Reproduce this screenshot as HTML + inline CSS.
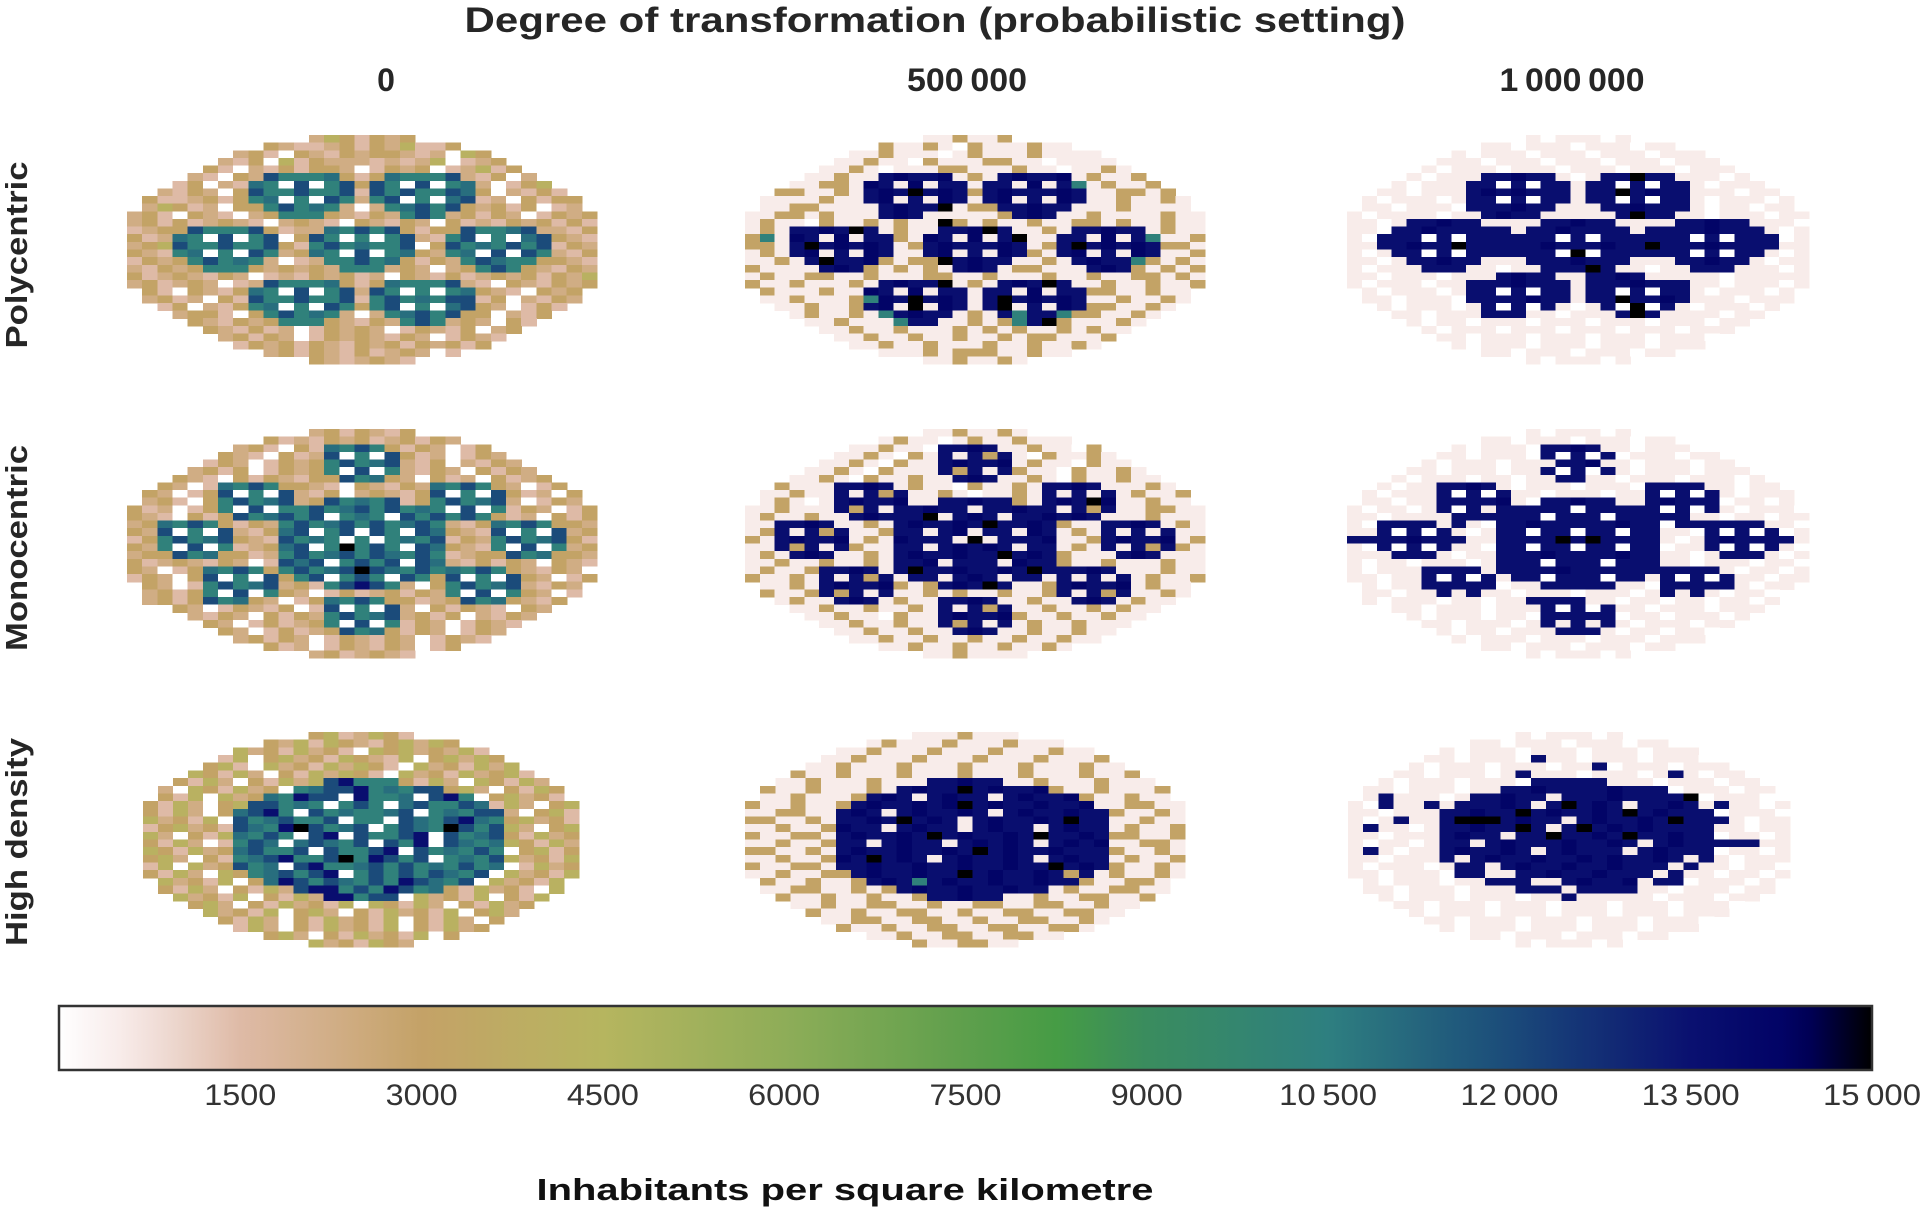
<!DOCTYPE html>
<html>
<head>
<meta charset="utf-8">
<style>
html,body{margin:0;padding:0;background:#fff;}
svg{display:block;}
text{font-family:"Liberation Sans",Arial,sans-serif;}
</style>
</head>
<body>
<svg id="chart" width="1921" height="1215" viewBox="0 0 1921 1215" xmlns="http://www.w3.org/2000/svg">
  <defs>
    <linearGradient id="cmapGrad" x1="0" x2="1" y1="0" y2="0"></linearGradient>
  </defs>
  <text x="935" y="32" font-size="35" font-weight="bold" fill="#262626" text-anchor="middle" textLength="941" lengthAdjust="spacingAndGlyphs">Degree of transformation (probabilistic setting)</text>
  <g id="colLabels"></g>
  <g id="rowLabels"></g>
  <g id="panels" shape-rendering="crispEdges"></g>
  <g id="colorbar"></g>
  <text x="845" y="1200" font-size="31" font-weight="bold" fill="#111" text-anchor="middle" textLength="617" lengthAdjust="spacingAndGlyphs">Inhabitants per square kilometre</text>
</svg>
<script>
// ---------- data ----------
const columnLabels = ["0", "500\u2009000", "1\u2009000\u2009000"];
const rowLabels = ["Polycentric", "Monocentric", "High density"];
const colorbarTicks = [1500, 3000, 4500, 6000, 7500, 9000, 10500, 12000, 13500, 15000];
const colorbarTickLabels = ["1500", "3000", "4500", "6000", "7500", "9000", "10\u2009500", "12\u2009000", "13\u2009500", "15\u2009000"];
const valueMin = 0;
const valueMax = 15000;
// density level codes used in the grids below
const levelCodes = ["0", "1", "2", "3", "4", "5", "G", "T", "U", "B", "N", "M", "K"];
const levelValues = [0, 500, 1500, 2300, 3100, 4200, 9000, 10300, 11000, 12000, 13600, 14200, 15000];

const gridPoly0 = [
"3542434","4322342435224","34204324344323054","3240524333232350234","420324244302434023524",
"32043BTTTU424UTTTB32403","24032UT0B0TB4BT0B0TU30245","324304BTTBTTB2BTBTTBU403242","4223424TU0T0BT3TB0T0UB2304244","35423044TBTUT303TUBTB43424023",
"3420432034TTT43243TBT3424302434","3424234320343204324304232434242","2344BTTTB4233UTBTB4244BTTUB3324","423UT0B0TB04BT0T0TB32TB0T0UB432","345BTTBTTB42TBTUTTB04BTUTBTB243",
"432TU0T0BT34UT0B0TU43TU0B0BT324","2434TBTUT3023TTBTU4243TBUTT4432","32434TTT434343TTT343034TBT43243","4234324302324342304324234342435","342343023BTTTU424UTTTB320432434",
"4204324UT0B0TB3BT0T0TU4320434","3423042BTTBTTB2TBTUTBB2403243","240324TU0T0BT4TB0T0UB430242","344204TBTUT303TUBTB440324","432434TTT43243TBT343042",
"432423024343024324034","3424302434324302432","24342432434243424","3424324234302","4323432"];
const gridPoly1 = [
"1141140","4114104111411","11411101411141111","1141104111441101111","114101114411141101141",
"11411NMNNM141NMNNM14114","11441MN1M1NN1NN1M1NT14114","441141NMNKNMN4NMNNNMN114414","1111411NM1N1MN1NM1N1MN1141141","11441111NMNNK144NNMNN11141111",
"1114414111NMN111114NMN1141111411","1411041141411K41411411441411411","141NNMNKN1411NNMKN1141NNMNN1411","4T1MN1M1NN41MN1M1NK11NN1M1NT114","441NKNMNMN14NMNNNMN14NKNMNMN441",
"141NM1N1MN11NM1N1MN41NM1N1MN114","1141NKNNM4144KNMNN1141NMNNT4141","41111NMN414141NMN144111NMN41414","1411441141114411411141141144141","411411141NMNNK141NMNKN114114114",
"4111411MN1M1NN1NN1M1NN4411411","1141114TMNKNMN1NKNMNMN1141141","114114NM1K1MN1NK1N1MN441141","141141TNMNN141NTNNT441141","114111TNN11414TNK411141",
"114114111414141141411","1141141141141441114","11411411141141141","1114144411411","1141141"];
const gridPoly2 = [
"1011101","1101110111011","10111011101110111","1110111011101110111","101110111011101110111",
"10111NNMNN101NNKNN11101","10111NN0N0NN1NN0N0NN10111","110111NMNMNNN1NNKNMNN111011","1011101NN0N0NN1NN0N0NN1011101","1101110NNNMNN111NNMNNN1011011",
"101111011NMNN11111NKNN110111011","1101NNMNN1111NNMNN1111NNMNN1110","110NNMNNNNN1NNMNNNN1NNNNMNNN101","10NNN0N0NNNNNN0N0NNNNNN0N0NNN01","11NNMNNKNNNNNMNNNMNNKNNNMNNNN11",
"101NN0N0NNNNNN0K0NNNNNN0N0NN101","1101NNMNN111NNNMNNN111NNMNN1011","10111NNN11011NNNKN11011NNN11101","1101110111NMNN11NNMN11111011111","10111011NNNMNNN1NNNMNNN11011101",
"1011101NN0N0NN1NN0N0NN1011101","1101110NNNNMNN1NNKNNMN1110111","1011101N0N0N101N0K0N1011101","110111NNN110111NKN1111011","10110111011101110111011",
"101110111011101110111","1101110111011101110","10111011101110111","1101110111011","1011101"];
const gridMono0 = [
"............3424324............",".........4232434234243.........",".......342042UTBT4243024.......","......4320423B0T0B4230243......",".....24302434TBTUB32403243.....",
"....342402434T0B0T324304243....","...43204243244BTU43042304234...","..4302UTBT4432043243UTBT43024..",".43024B0T0B324034324B0T0B42304.",".34204TBTUB34BTUTB24TBTUB30243.",
"423024T0B0TTBTUBTBTUT0B0T243024","4320424BTUBTB0TUT0BTBTBT4230424","34UTBT4243TBTUBTBTUBT324UTBT443","43B0T0B324UB0TB0BT0BU432B0T0B34","24TBTUB432BTUT0T0TUTB243TBTUB42",
"43T0B0T234UB0TKTBT0BU432T0B0T34","344BTU4423TBTUBTBUTBT2344BTU443","4234324302BUB0TBTB0BU3242430432","43024UTBT4TBTUBKBUTBTUTBT432430","24304B0T0B4TB0TBT0BT4B0T0B43024",
".4302TBTUB342TBNBT304TBTUB3243.",".3424T0B0T43024234243T0B0T4302.","..3424BTU43024UTBT44234BTU4324..","...4302432402B0T0B3042432043...","....324304243TBTUB342403243....",
".....43024234T0B0T24302432.....","......43024234BTU42430243......",".......34243024324302432.......",".........4230243243024.........","............3423432............"];
const gridMono1 = [
"............1141141............",".........1411014114111.........",".......114110NNMN1141104.......","......1141041N1N4N1041141......",".....11410411NMNNM14110411.....",
"....114104111N4N1N411041141....","...11410411411NMN11410411411...","..4111NNMN1411041141NNMN11141..",".11411N1N4N114101141N1N1N14114.",".14101NMNNM11NNMNN41NMNKM11411.",
"114111N4N1NNMNN1NNMNN1N4N114411","1411411NMNNNK1NMN1NNMNMN1114111","11NNMN1141NMNNMNKNNMN411NNMN141","14N1N4N114NN1NM1NN1MN141N1N1N11","41NMNNM141MNNN1K1NNNM114NMNNM14",
"11N4N1N411NN1NMNMN1NN141N1N4N41","141NMN1141NMNNMNNKNMN4111NMN111","1141141141NNM1NNN1MNN4114111411","14114NNMN1NKNNMNNMNKNNNMN111411","41141N1N4N1NN1NMN1NN1N1N1N14114",
".1141NMNNM414NMNKN114NMNNM1411.",".4114N4N1N11414114114N1N4N1141.","..1411NMN1411NNMN11411NMN1411..","...1141141141N1N4N1141141411...","....114110411NMNNM411411411....",
".....11411411N4N1N14114111.....","......11411411NMN11411411......",".......11411411411411411.......",".........1141141141141.........","............1141111............"];
const gridMono2 = [
"............1011101............",".........1101110111011.........",".......101110NNMN1101110.......","......1101110N0N0N0111011......",".....101110111NNM110111011.....",
"....110111011N0N0N101110111....","...10111011011NN110111011101...","..1011NNMN1011101110NNNN11011..",".10111N0N0N110111011N0N0N10111.",".11011NNNNM10NNMNN11NMNNN01101.",
"101101N0N1NNNNN0NNNNN0N0N101110","1101111NNNNNN0NNN0NNNNN11011011","10NNNN1N10NNMNNNNNMNN0NNNNNN110","11N0N0N101NN0NN0NN0NN110N0N0N01","NNNNMNNN11NNNNKNKNNNN101NMNNNN1",
"10N0N0N110NN0NN0NN0NN011N0N0N10","111NNN1011NNNMNNNNMNN1101NNN101","1011011101NNN0NNN0NNN1101110110","10111NNNN1NNNNMNNNNNNNNNN101101","11011N0N0N1NN0NNN0NN1N0N0N11011",
".1011NNNNN011NNNNN110NNNNN1011.",".11011N1N110111011101N1N10110..","..10111011011NNNN1101101101101..","...1101110111N0N0N1101110111...","....101110110NNNNN011011101....",
".....11011101N1N1N10111011.....","......10110111NNN10110110......",".......10111011101110111.......",".........1101110111011.........","............1011101............"];
const gridHigh0 = [
"4523542","4352543245354","53425342054534352","2504534254325045354","452053425354205342535",
"54253042535420534253452","4253042535BNTTT4253054253","305425340TUBBNTUTBB45304254","4250534UTNBB0NTTU0BNT045342","4253045BBTUT0TBT0UBTTBU253045",
"425304UBNT0BTUTTUB0TUTBB30452","534250BTUBTTB0TT0BUTBNUT45342","245342BUTNKBTUB0TBUTKBTB53045","530425UTBT0BN0BTTBN0BTUB42534","425302TBU0UBUTB0BTN0BUTU54253",
"542534UBTTB0BTTBN0BTUTBT04524","453042TUBNTTBKTNBTB0TUTB53425","250534BTU0BNTTUBTBTUTBTU02534","4253054TUBTBN0TBTBTBUTB053425","5342504UNBTBUTBTNBUTB053425",
"425304253BNNTBTNBTU42534205","5342504253NNTBB0534250425","45304253425054253042534","534250453042534250453","4253042534250425304",
"25304253425042534","4530425342504","5342543"];
const gridHigh1 = [
"1114111","1411141114111","11411141114111411","1141114111411141114","114111411141114111411",
"41141114111411141114114","1141114111NNMNN1141114111","411411141NMNNKNMNNM41141114","1141114NMN1NMNN1NMNNM411411","4114114NMNNMNMKNMNNMNNM114411",
"114411NMN1NMNNMN1NMNNMNN41141","441141NNMNKNMN1NMNNMNKNN11411","114114MNN1NMNN1NMNN1NMNN14114","411441NMNNMNKNMNNMNKNNMN44114","114114NN1NMNN1NMNMN1NMNM11441",
"441141NMNNMNNMNKNMNNMNNN41141","114114MNKNMN1NMNNMN1NMNN14114","411441NNMNNMNNMNNMNNKNMN41141","1141144NMNNMNNKNMNNMN4N141141","4114114NMNTNMNNMNNMNN411441",
"114411414NMNNMNNMNN14114411","4114114114NNMNN1141144114","11411441141144114411411","411411441141144114411","1144114411411441141",
"41141144114411441","1141144114411","4114411"];
const gridHigh2 = [
"1011101","1101110111011","10111011101110111","1101110N11011101110","101110111011N01110111",
"11011101N111011101N1011","1011101110NNNNN1110111011","110111011NNMNNNNMNNN0111011","1N11101NNMNN1NNNMNNNNK01110","10N11N1NNNMN1NKNMN1NNMN1N1101",
"110111NNMNNKNMNNMNKNMNNN01110","101N11NKKKNMNN1NMNNMNKNNN1011","1N1101NNMNNKN1NKNMNMNNNN11011","110111NMNN1NNKNNMNKNNMNN01101","101101NN1NMNNNMNNMN1NMNNNNN11",
"1N1011NMNNMN1NMNNN1NMNNN01101","110111N1NMNNMNNMNMNNMN1N10111","1011101NN1NMNNMNNMNNN1N110110","1101110NN11NNMNNMNNN1N1101101","10111011NNN11NMNNM1NN011101",
"1101110111NNN1NNNN110111011","101110111011N111110111011","11011101110111011101110","101110111011101110111","1101110111011101110",
"10111011101110111","1101110111011","1011101"];

// ---------- layout ----------
const panelGrids = [
  [gridPoly0, gridPoly1, gridPoly2],
  [gridMono0, gridMono1, gridMono2],
  [gridHigh0, gridHigh1, gridHigh2]
];
const panelCols = [31, 31, 29];
const colLeft = [[127, 745, 1347],[127, 745, 1347],[143, 745, 1348]];
const colWidth = [[470, 460, 462],[470, 460, 462],[436, 440, 442]];
const rowTop = [135, 429, 732];
const rowHeight = [229, 229, 215];
const colLabelX = [386, 967, 1572];
const rowLabelY = [255, 548, 842];
const cbX0 = 59, cbX1 = 1872, cbY0 = 1006, cbY1 = 1070;

const cmapStops = [
  [0.00, [255,255,255]], [0.04, [246,232,230]], [0.10, [222,186,166]], [0.20, [196,162,103]],
  [0.30, [182,181,95]], [0.40, [142,173,88]], [0.50, [94,159,76]], [0.55, [70,156,69]],
  [0.60, [58,140,94]], [0.70, [46,127,128]], [0.80, [27,75,122]], [0.90, [10,16,112]],
  [0.96, [0,0,100]], [1.00, [0,0,0]]
];
function cmap(v){
  const t = Math.max(0, Math.min(1, (v - valueMin) / (valueMax - valueMin)));
  for (let i = 1; i < cmapStops.length; i++){
    if (t <= cmapStops[i][0]){
      const a = cmapStops[i-1], b = cmapStops[i];
      const f = (t - a[0]) / (b[0] - a[0]);
      const c = a[1].map((x, k) => Math.round(x + (b[1][k] - x) * f));
      return "rgb(" + c.join(",") + ")";
    }
  }
  return "rgb(0,0,0)";
}
function cbScale(v){ return cbX0 + (v - valueMin) / (valueMax - valueMin) * (cbX1 - cbX0); }

const NS = "http://www.w3.org/2000/svg";
const panelsG = document.getElementById("panels");
const shortRow = ["polycentric", "monocentric", "high-density"];
const shortCol = ["0", "500k", "1m"];

for (let r = 0; r < 3; r++){
  for (let c = 0; c < 3; c++){
    const grid = panelGrids[r][c];
    const ncols = panelCols[r];
    const nrows = grid.length;
    const cw = colWidth[r][c] / ncols;
    const ch = rowHeight[r] / nrows;
    const x0 = colLeft[r][c], y0 = rowTop[r];
    const xScale = (i) => x0 + i * cw;
    const yScale = (j) => y0 + j * ch;
    const g = document.createElementNS(NS, "g");
    
    
    panelsG.appendChild(g);
    grid.forEach((rowStr, j) => {
      const pad = Math.floor((ncols - rowStr.length) / 2);
      for (let i = 0; i < rowStr.length; i++){
        const ch0 = rowStr[i];
        const idx = levelCodes.indexOf(ch0);
        if (idx < 0) continue;
        if (pad + i >= ncols || pad + i < 0) continue;
        const v = levelValues[idx];
        const rect = document.createElementNS(NS, "rect");
        
        
        const xa = xScale(pad + i), xb = xScale(pad + i + 1);
        const ya = yScale(j), yb = yScale(j + 1);
        rect.setAttribute("x", xa.toFixed(2));
        rect.setAttribute("y", ya.toFixed(2));
        rect.setAttribute("width", (xb - xa + 0.6).toFixed(2));
        rect.setAttribute("height", (yb - ya + 0.6).toFixed(2));
        rect.setAttribute("fill", cmap(v));
        g.appendChild(rect);
      }
    });
  }
}

// column labels
const colG = document.getElementById("colLabels");
columnLabels.forEach((lab, i) => {
  const t = document.createElementNS(NS, "text");
  
  
  t.setAttribute("x", colLabelX[i]);
  t.setAttribute("y", 91);
  t.setAttribute("font-size", "32");
  t.setAttribute("font-weight", "bold");
  t.setAttribute("fill", "#262626");
  t.setAttribute("text-anchor", "middle");
  if (i > 0){ t.setAttribute("textLength", i === 1 ? 120 : 145); t.setAttribute("lengthAdjust", "spacingAndGlyphs"); }
  t.textContent = lab;
  colG.appendChild(t);
});
// row labels
const rowG = document.getElementById("rowLabels");
const rowLabelLen = [187, 206, 208];
rowLabels.forEach((lab, i) => {
  const t = document.createElementNS(NS, "text");
  
  
  t.setAttribute("x", 0);
  t.setAttribute("y", 0);
  t.setAttribute("transform", "translate(27," + rowLabelY[i] + ") rotate(-90)");
  t.setAttribute("font-size", "31");
  t.setAttribute("font-weight", "bold");
  t.setAttribute("fill", "#262626");
  t.setAttribute("text-anchor", "middle");
  t.setAttribute("textLength", rowLabelLen[i]);
  t.setAttribute("lengthAdjust", "spacingAndGlyphs");
  t.textContent = lab;
  rowG.appendChild(t);
});

// colorbar
const grad = document.getElementById("cmapGrad");
for (let k = 0; k <= 60; k++){
  const s = document.createElementNS(NS, "stop");
  s.setAttribute("offset", (k / 60).toFixed(4));
  s.setAttribute("stop-color", cmap(valueMin + (valueMax - valueMin) * k / 60));
  grad.appendChild(s);
}
const cbG = document.getElementById("colorbar");
const cbRect = document.createElementNS(NS, "rect");


cbRect.setAttribute("x", cbX0); cbRect.setAttribute("y", cbY0);
cbRect.setAttribute("width", cbX1 - cbX0); cbRect.setAttribute("height", cbY1 - cbY0);
cbRect.setAttribute("fill", "url(#cmapGrad)");
cbRect.setAttribute("stroke", "#333"); cbRect.setAttribute("stroke-width", "2.5");
cbG.appendChild(cbRect);
colorbarTicks.forEach((v, i) => {
  const t = document.createElementNS(NS, "text");
  
  
  t.setAttribute("x", cbScale(v));
  t.setAttribute("y", 1105);
  t.setAttribute("font-size", "30");
  t.setAttribute("fill", "#333");
  t.setAttribute("text-anchor", "middle");
  const lab = colorbarTickLabels[i];
  t.setAttribute("textLength", lab.length > 4 ? 98 : 72);
  t.setAttribute("lengthAdjust", "spacingAndGlyphs");
  t.textContent = lab;
  cbG.appendChild(t);
});
</script>
</body>
</html>
